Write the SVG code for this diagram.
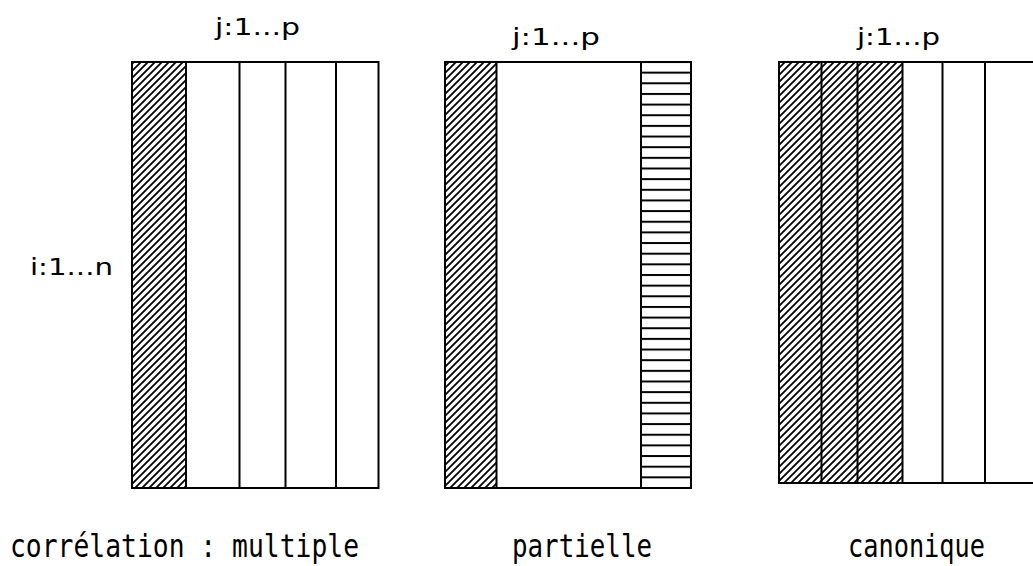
<svg xmlns="http://www.w3.org/2000/svg" width="1033" height="566" viewBox="0 0 1033 566">
<defs>
<pattern id="diag" patternUnits="userSpaceOnUse" width="7" height="7">
<path d="M-1,8 L8,-1 M-4.5,4.5 L4.5,-4.5 M2.5,11.5 L11.5,2.5" stroke="#000" stroke-width="1.8"/>
</pattern>
<pattern id="horiz" patternUnits="userSpaceOnUse" x="0" y="61" width="10" height="10.65">
<line x1="0" y1="1" x2="10" y2="1" stroke="#000" stroke-width="2"/>
</pattern>
</defs>
<style>
.b{fill:none;stroke:#000;stroke-width:2}
.l{stroke:#000;stroke-width:2}
.t{font-family:"DejaVu Sans",sans-serif;font-size:23px;fill:#000}
.m{font-family:"DejaVu Sans Mono","Liberation Mono",monospace;font-size:32px;fill:#000}
</style>
<rect width="1033" height="566" fill="#fff"/>
<g id="multiple">
<rect x="132" y="62" width="54" height="426" fill="url(#diag)"/>
<line class="l" x1="186" y1="62" x2="186" y2="488"/>
<line class="l" x1="239.5" y1="62" x2="239.5" y2="488"/>
<line class="l" x1="285.5" y1="62" x2="285.5" y2="488"/>
<line class="l" x1="336" y1="62" x2="336" y2="488"/>
<rect class="b" x="132" y="62" width="246.5" height="426"/>
<text class="t" x="215" y="35" textLength="85" lengthAdjust="spacingAndGlyphs">j:1...p</text>
<text class="t" x="30" y="275" textLength="83" lengthAdjust="spacingAndGlyphs">i:1...n</text>
<text class="m" x="10" y="557" textLength="349" lengthAdjust="spacingAndGlyphs">corrélation : multiple</text>
</g>
<g id="partielle">
<rect x="445" y="62" width="51.5" height="426" fill="url(#diag)"/>
<rect x="641" y="62" width="50" height="426" fill="url(#horiz)"/>
<line class="l" x1="496.5" y1="62" x2="496.5" y2="488"/>
<line class="l" x1="641" y1="62" x2="641" y2="488"/>
<rect class="b" x="445" y="62" width="246" height="426"/>
<text class="t" x="512" y="45" textLength="88" lengthAdjust="spacingAndGlyphs">j:1...p</text>
<text class="m" x="512" y="557" textLength="140" lengthAdjust="spacingAndGlyphs">partielle</text>
</g>
<g id="canonique">
<rect x="779" y="62" width="123.5" height="421" fill="url(#diag)"/>
<line class="l" x1="821.5" y1="62" x2="821.5" y2="483"/>
<line class="l" x1="857.5" y1="62" x2="857.5" y2="483"/>
<line class="l" x1="902.5" y1="62" x2="902.5" y2="483"/>
<line class="l" x1="942.5" y1="62" x2="942.5" y2="483"/>
<line class="l" x1="985" y1="62" x2="985" y2="483"/>
<path class="b" d="M1040,62 H779 V483 H1040"/>
<text class="t" x="857" y="45" textLength="83" lengthAdjust="spacingAndGlyphs">j:1...p</text>
<text class="m" x="848" y="557" textLength="137" lengthAdjust="spacingAndGlyphs">canonique</text>
</g>
<g id="connectors"/>
</svg>
